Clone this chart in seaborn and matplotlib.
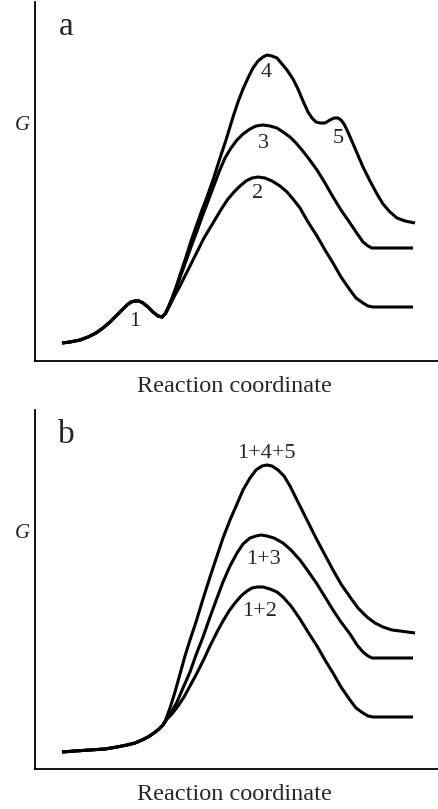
import numpy as np
import pandas as pd
import matplotlib
matplotlib.use("Agg")
import matplotlib.pyplot as plt
import seaborn as sns

# Free energy profiles (arbitrary units)
# panel a: common start through step 1, then branches 2 / 3 / 4+5
a_start_x = [27, 35, 45, 53, 61, 68, 75, 81, 87, 92, 96, 100, 104, 108, 113, 118, 123, 127]
a_start_y = [18, 19, 21, 24, 28, 33, 39, 45, 51, 56, 59, 60, 60, 58, 54, 49, 45, 44]

a2_x = [131, 135, 140, 145, 151, 157, 163, 169, 175, 181, 187, 193, 199, 205, 211, 217, 223,
        230, 237, 245, 252, 258, 265, 273, 282, 290, 298, 306, 315, 321, 328, 333, 338, 378]
a2_y = [48, 56, 66, 75, 87, 99, 111, 123, 133, 143, 153, 162, 169, 175, 180, 183, 184,
        183, 180, 175, 169, 162, 153, 139, 125, 111, 98, 84, 71, 63, 58, 55, 54, 54]

a3_x = [130, 133, 137, 141, 146, 151, 156, 162, 167, 172, 178, 184, 190, 196, 202, 208, 215,
        221, 228, 235, 242, 248, 255, 261, 267, 274, 282, 290, 298, 306, 315, 321, 328, 333,
        337, 342, 378]
a3_y = [47, 53, 62, 72, 86, 100, 114, 130, 144, 157, 173, 189, 203, 213, 221, 227, 232,
        235, 236, 235, 233, 229, 224, 218, 211, 202, 191, 178, 164, 151, 138, 129, 119, 115,
        113, 113, 113]

a4_x = [130, 133, 137, 141, 146, 151, 156, 162, 167, 172, 178, 185, 191, 198, 203, 208, 213,
        218, 223, 228, 232, 237, 242, 247, 252, 258, 263, 268, 273, 277, 281, 285, 290, 295,
        299, 303, 306, 309, 312, 316, 322, 328, 335, 342, 348, 355, 362, 370, 380]
a4_y = [47, 53, 63, 74, 89, 104, 120, 137, 151, 164, 181, 203, 221, 244, 259, 272, 283,
        293, 300, 304, 306, 305, 303, 297, 291, 282, 272, 260, 249, 243, 239, 238, 238, 241,
        243, 243, 241, 237, 231, 222, 208, 194, 180, 167, 157, 149, 143, 140, 138]

# panel b: combined steps
b_start_x = [27, 40, 55, 70, 82, 92, 100, 107, 113, 119, 124, 128]
b_start_y = [17, 18, 19, 20, 22, 24, 26, 29, 32, 36, 40, 44]

b12_x = [132, 137, 143, 149, 155, 162, 169, 175, 182, 188, 194, 200, 206, 212, 217, 222, 228,
         235, 242, 248, 256, 265, 273, 282, 290, 298, 306, 315, 321, 328, 333, 338, 378]
b12_y = [50, 55, 63, 72, 83, 96, 110, 123, 137, 148, 158, 166, 173, 178, 181, 182, 182,
         180, 177, 172, 163, 150, 137, 123, 109, 96, 82, 69, 61, 56, 53, 52, 52]

b13_x = [131, 136, 142, 148, 155, 161, 168, 175, 182, 188, 195, 202, 208, 215, 221, 226, 232,
         239, 248, 256, 265, 273, 282, 290, 298, 306, 315, 322, 328, 333, 337, 342, 378]
b13_y = [49, 56, 67, 81, 97, 114, 132, 152, 171, 187, 203, 216, 225, 231, 233, 234, 233,
         231, 226, 219, 209, 198, 185, 172, 159, 147, 135, 124, 117, 113, 111, 111, 111]

b145_x = [131, 135, 140, 145, 150, 155, 161, 168, 175, 182, 188, 195, 202, 208, 215, 221, 227,
          232, 237, 243, 249, 255, 260, 265, 273, 282, 290, 298, 306, 315, 323, 332, 340, 348,
          357, 365, 380]
b145_y = [50, 61, 77, 95, 113, 129, 147, 170, 192, 213, 231, 249, 265, 279, 291, 299, 303,
          304, 303, 299, 293, 283, 273, 263, 247, 229, 214, 199, 185, 172, 161, 152, 146, 142,
          139, 138, 136]

a_labels = ["1", "2", "3", "4", "5"]
a_label_x = [100, 223, 228, 231, 303]
a_label_y = [40, 167, 218, 289, 223]

b_labels = ["1+2", "1+3", "1+4+5"]
b_label_x = [225, 228, 231]
b_label_y = [157, 210, 316]

sns.set_theme(style="white")
plt.rcParams["font.family"] = ["Liberation Serif", "DejaVu Serif"]

fig = plt.figure(figsize=(4.39, 8.09), dpi=100)
ax_a = fig.add_axes([35 / 439, 448 / 809, 403 / 439, 359 / 809])
ax_b = fig.add_axes([35 / 439, 40 / 809, 403 / 439, 359 / 809])


def draw_profile(ax, start_x, start_y, bx, by):
    xs = start_x + bx
    ys = start_y + by
    sns.lineplot(x=xs, y=ys, ax=ax, sort=False, estimator=None, color="black",
                 linewidth=2.2, solid_capstyle="butt", solid_joinstyle="round")


for bx, by in [(a2_x, a2_y), (a3_x, a3_y), (a4_x, a4_y)]:
    draw_profile(ax_a, a_start_x, a_start_y, bx, by)
for bx, by in [(b12_x, b12_y), (b13_x, b13_y), (b145_x, b145_y)]:
    draw_profile(ax_b, b_start_x, b_start_y, bx, by)

for lab, x, y in zip(a_labels, a_label_x, a_label_y):
    ax_a.text(x, y, lab, fontsize=16, ha="center", va="center")
for lab, x, y in zip(b_labels, b_label_x, b_label_y):
    ax_b.text(x, y, lab, fontsize=16, ha="center", va="center")

for ax, letter in [(ax_a, "a"), (ax_b, "b")]:
    ax.set_xlim(0, 403)
    ax.set_ylim(0, 359)
    ax.set_xticks([])
    ax.set_yticks([])
    ax.set_xlabel("")
    ax.set_ylabel("")
    for side in ["top", "right"]:
        ax.spines[side].set_visible(False)
    for side in ["left", "bottom"]:
        ax.spines[side].set_color("black")
        ax.spines[side].set_linewidth(1.3)
    ax.text(0.077, 0.93, letter, transform=ax.transAxes, fontsize=24,
            ha="center", va="center")
    ax.text(-0.032, 0.655, "G", transform=ax.transAxes, fontsize=15,
            style="italic", ha="center", va="center")
    ax.text(0.496, -0.072, "Reaction coordinate", transform=ax.transAxes,
            fontsize=17.5, ha="center", va="center")

fig.savefig("out.png", dpi=100)
